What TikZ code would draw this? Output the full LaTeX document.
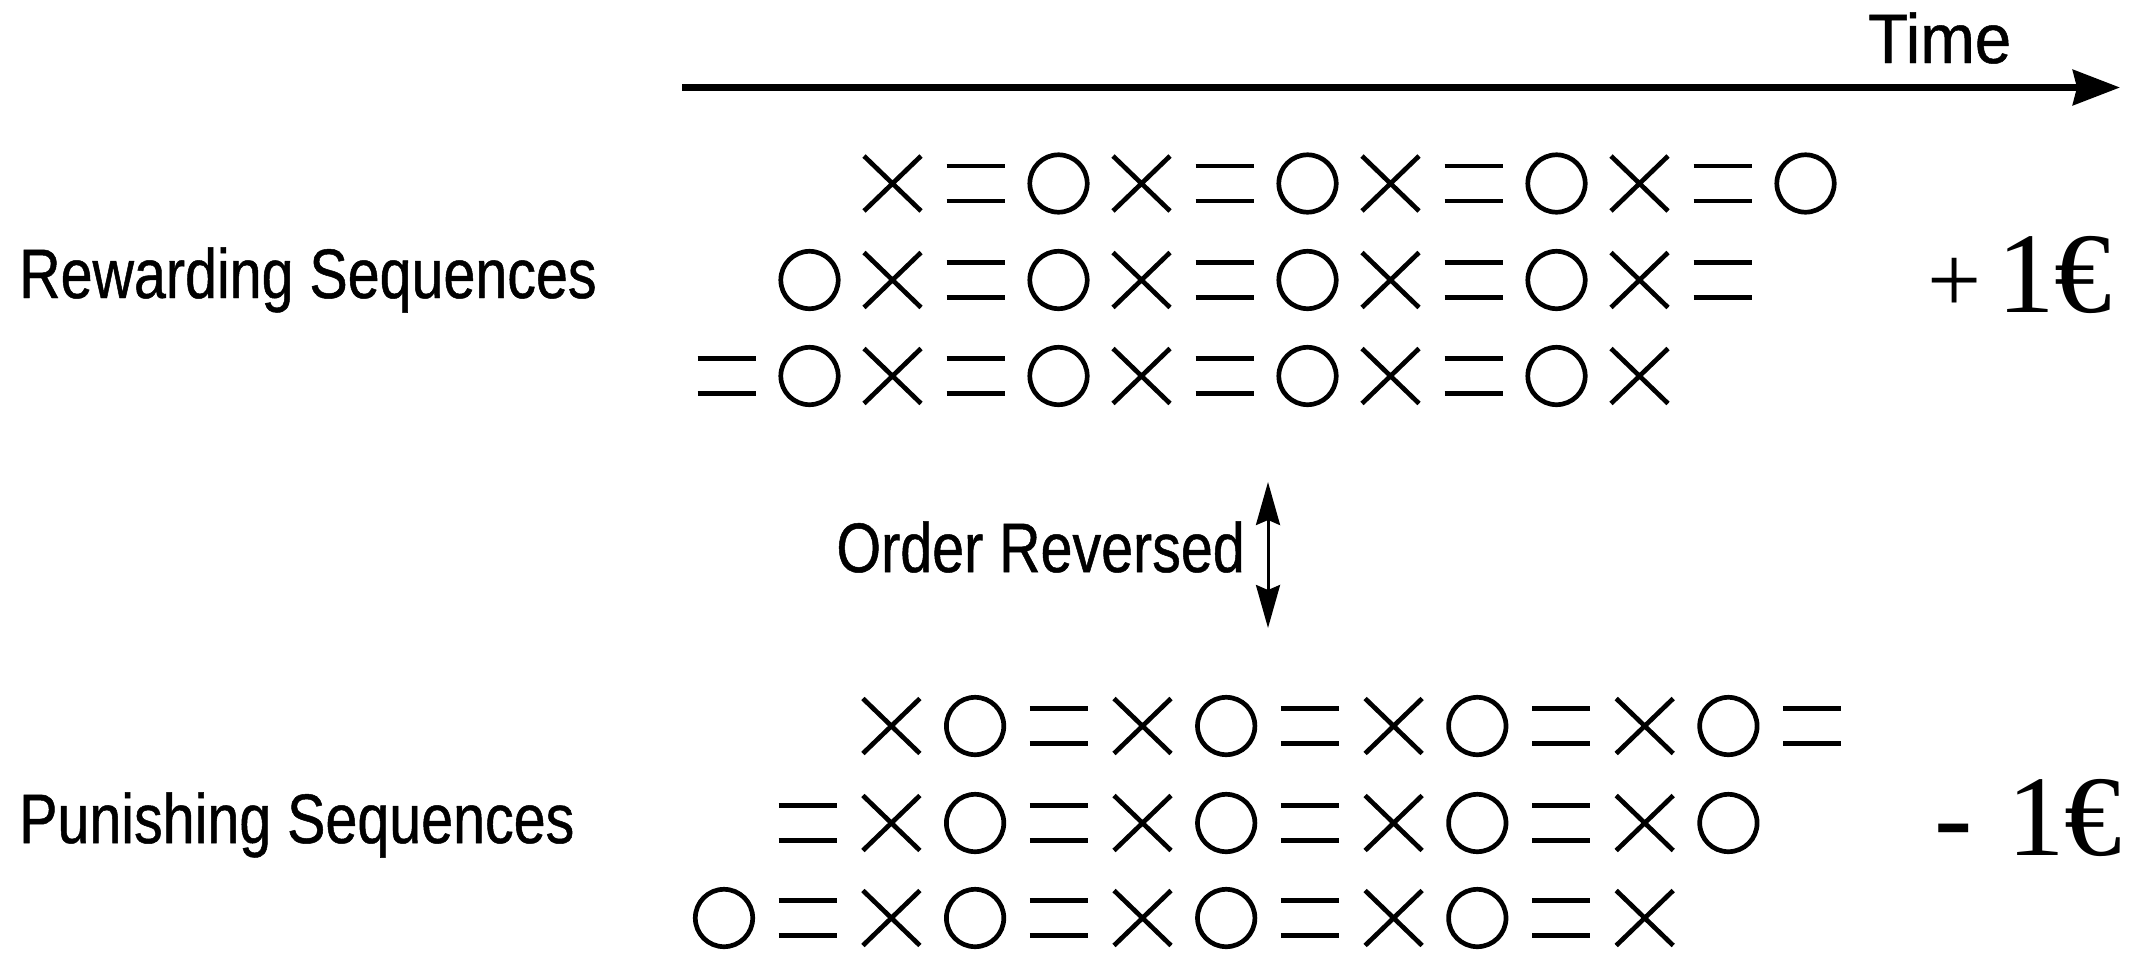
\documentclass[tikz,border=0pt]{standalone}
\usepackage{fontspec}
\usepackage{graphicx}
\usetikzlibrary{arrows.meta}
\newfontfamily\labelfont[FakeStretch=0.82,FakeBold=0.7]{Liberation Sans}
\newfontfamily\moneyfont{Liberation Serif}

\tikzset{
  glyph/.style={line width=4.7pt, line cap=butt},
  symx/.pic={\draw[glyph] (-28.5,-27.5) -- (28.5,27.5) (-28.5,27.5) -- (28.5,-27.5);},
  syme/.pic={\draw[glyph] (-29,-17.5) -- (29,-17.5) (-29,17.5) -- (29,17.5);},
  symo/.pic={\draw[glyph] (0,0) circle [radius=28.7];},
  lbl/.style={inner sep=0pt, font=\labelfont\fontsize{70}{84}\selectfont},
  money/.style={inner sep=0pt, anchor=base west, font=\moneyfont\fontsize{115}{115}\selectfont},
  axis/.style={line width=7pt, -{Stealth[length=47pt,width=35pt,inset=4pt]}},
  swap/.style={line width=3pt, {Stealth[length=43pt,width=24pt,inset=5pt]}-{Stealth[length=43pt,width=24pt,inset=5pt]}},
}

% one row of marks: #1 = y, #2 = first column x, #3 = column step, #4 = first column index, #5 = marks
\newcommand{\markrow}[5]{%
  \foreach \s [count=\k from #4] in {#5} {%
    \edef\rowcmd{\noexpand\pic at ({#2+#3*\k},#1) {sym\s};}\rowcmd
  }%
}

\begin{document}
\begin{tikzpicture}[x=1pt,y=-1pt]
\fill[white] (0,0) rectangle (2132,953);
\useasboundingbox (0,0) rectangle (2132,953);

% time axis
\coordinate (t0) at (682,87.5);
\coordinate (t1) at (2120,87.5);
\draw[axis] (t0) -- (t1);
\node[lbl, anchor=base west] (time) at (1868,63) {\scalebox{1.14}[1]{Time}};

% row labels
\node[lbl, anchor=base west] (rew) at (19,298) {Rewarding Sequences};
\node[lbl, anchor=base west] (pun) at (19,843) {Punishing Sequences};

% rewarding sequences
\markrow{183.5}{726.5}{83}{2}{x,e,o,x,e,o,x,e,o,x,e,o}
\markrow{280}{726.5}{83}{1}{o,x,e,o,x,e,o,x,e,o,x,e}
\markrow{376}{726.5}{83}{0}{e,o,x,e,o,x,e,o,x,e,o,x}

% punishing sequences
\markrow{726}{724}{83.7}{2}{x,o,e,x,o,e,x,o,e,x,o,e}
\markrow{823}{724}{83.7}{1}{e,x,o,e,x,o,e,x,o,e,x,o}
\markrow{918}{724}{83.7}{0}{o,e,x,o,e,x,o,e,x,o,e,x}

% order reversal
\node[lbl, anchor=base east] (rev) at (1245,572) {Order Reversed};
\coordinate (r0) at (1268,482);
\coordinate (r1) at (1268,628);
\draw[swap] (r0) -- (r1);

% payoffs
\node[money] (gain) at (1927,312.7) {{\fontsize{96}{96}\selectfont +}\hspace{16pt}1€};
\node[money] (loss) at (1934.4,855.7) {-\hspace{34.5pt}1€};
\end{tikzpicture}
\end{document}
